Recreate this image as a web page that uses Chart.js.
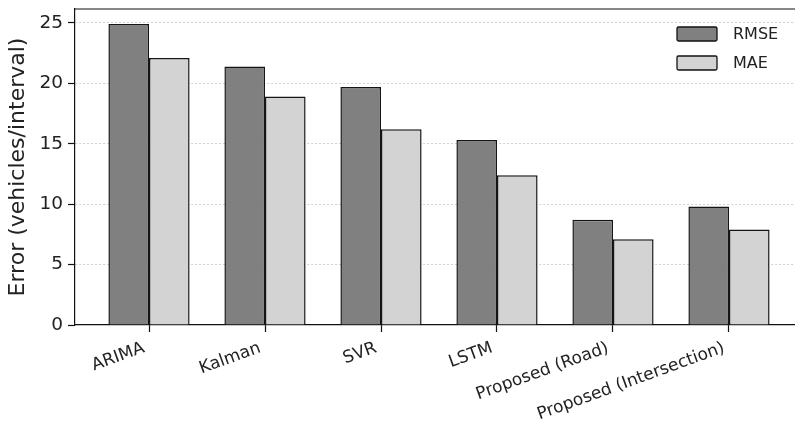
<!DOCTYPE html>
<html lang="en">
<head>
  <meta charset="UTF-8">
  <title>Error comparison</title>
  <script src="https://cdn.jsdelivr.net/npm/chart.js@4.4.0/dist/chart.umd.min.js"></script>
  <style>
    html, body { margin: 0; padding: 0; overflow: hidden; background: #fff; }
    #wrap { width: 812px; height: 424px; }
  </style>
</head>
<body>
  <div id="wrap"><canvas id="myChart"></canvas></div>

  <script>
    // data
    const categories = ['ARIMA', 'Kalman', 'SVR', 'LSTM', 'Proposed (Road)', 'Proposed (Intersection)'];
    const rmse = [24.9, 21.4, 19.7, 15.3, 8.7, 9.8];
    const mae = [22.1, 18.9, 16.2, 12.4, 7.1, 7.9];
    const yTicks = [0, 5, 10, 15, 20, 25];

    const FONT = 'DejaVu Sans';

    // legend drawn inside the plot, top right (matplotlib style)
    const innerLegend = {
      id: 'innerLegend',
      afterDraw(chart) {
        const ctx = chart.ctx;
        const x0 = 677, y0 = 27;
        ctx.save();
        ctx.font = '16px ' + FONT;
        ctx.textBaseline = 'middle';
        chart.data.datasets.forEach((ds, i) => {
          const y = y0 + i * 29;
          ctx.fillStyle = ds.backgroundColor;
          ctx.strokeStyle = '#111';
          ctx.lineWidth = 1.3;
          ctx.beginPath();
          ctx.roundRect(x0, y, 40, 14, 1.5);
          ctx.fill();
          ctx.stroke();
          ctx.fillStyle = '#222';
          ctx.fillText(ds.label, x0 + 56, y + 8);
        });
        // top / right frame lines
        const a = chart.chartArea;
        ctx.strokeStyle = '#111';
        ctx.lineWidth = 1.2;
        ctx.beginPath();
        ctx.moveTo(a.left, a.top);
        ctx.lineTo(a.right, a.top);
        ctx.lineTo(a.right, a.bottom);
        ctx.stroke();
        ctx.restore();
      }
    };

    const ctx = document.getElementById('myChart').getContext('2d');
    new Chart(ctx, {
      type: 'bar',
      data: {
        datasets: [
          {
            label: 'RMSE',
            data: rmse.map((v, i) => ({ x: i, y: v })),
            backgroundColor: '#808080',
            borderColor: '#151515',
            borderWidth: 1.5
          },
          {
            label: 'MAE',
            data: mae.map((v, i) => ({ x: i, y: v })),
            backgroundColor: '#d3d3d3',
            borderColor: '#151515',
            borderWidth: 1.5
          }
        ]
      },
      options: {
        responsive: true,
        maintainAspectRatio: false,
        animation: false,
        categoryPercentage: 0.7,
        barPercentage: 1.0,
        layout: { padding: { left: 5, top: 9, right: 9, bottom: 0 } },
        plugins: {
          legend: { display: false },
          tooltip: { enabled: false }
        },
        scales: {
          x: {
            type: 'linear',
            offset: false,
            min: -0.638,
            max: 5.638,
            afterBuildTicks: (s) => { s.ticks = categories.map((c, i) => ({ value: i })); },
            afterFit: (s) => { s.height = 99; },
            grid: {
              offset: false,
              drawOnChartArea: false,
              tickLength: 7,
              tickColor: '#111',
              tickWidth: 1.2
            },
            border: { display: true, color: '#111', width: 1.2 },
            ticks: {
              autoSkip: false,
              minRotation: 20,
              maxRotation: 20,
              padding: 6,
              labelOffset: -5,
              color: '#222',
              font: { family: FONT, size: 17 },
              callback: (v) => categories[v]
            }
          },
          y: {
            min: 0,
            max: 26.15,
            afterBuildTicks: (s) => { s.ticks = yTicks.map(v => ({ value: v })); },
            afterFit: (s) => { s.width = 70; s.paddingTop = 0; s.paddingBottom = 0; },
            grid: {
              color: (c) => c.tick && c.tick.value > 0 ? '#cfcfcf' : 'rgba(0,0,0,0)',
              lineWidth: 1,
              tickLength: 7,
              tickColor: '#111',
              tickWidth: 1.2,
              tickBorderDash: []
            },
            border: { display: true, color: '#111', width: 1.2, dash: [2, 2] },
            ticks: {
              padding: 5,
              color: '#222',
              font: { family: FONT, size: 18.5 }
            },
            title: {
              display: true,
              text: 'Error (vehicles/interval)',
              color: '#222',
              padding: { top: 0, bottom: 1 },
              font: { family: FONT, size: 22 }
            }
          }
        }
      },
      plugins: [innerLegend]
    });
  </script>
</body>
</html>
